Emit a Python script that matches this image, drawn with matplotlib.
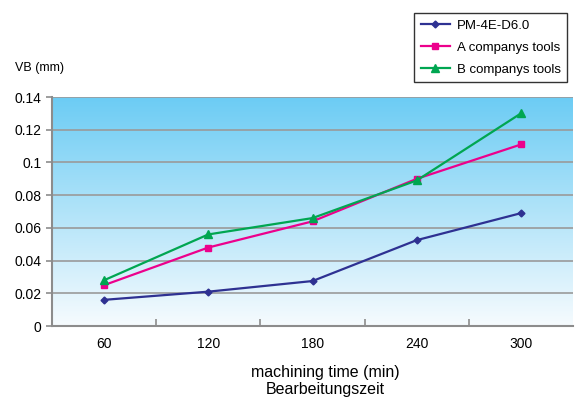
import numpy as np
import matplotlib.pyplot as plt

plt.rcParams['font.family'] = ['Liberation Sans', 'DejaVu Sans']

# --- DATA ---
times = ['60', '120', '180', '240', '300']
pm4e = [0.016, 0.021, 0.0275, 0.0525, 0.069]
a_tools = [0.025, 0.048, 0.064, 0.090, 0.111]
b_tools = [0.028, 0.056, 0.066, 0.089, 0.130]

# --- PLOT ---
fig = plt.figure(figsize=(5.76, 4.11), dpi=100)
ax = fig.add_axes([0.0903, 0.2068, 0.9045, 0.557])

# gradient background: light blue at top, almost white at bottom
grad = np.linspace(0, 1, 256).reshape(-1, 1)
top = np.array([0x6c, 0xcc, 0xf4]) / 255
bot = np.array([0xf6, 0xfb, 0xfe]) / 255
img = bot + (top - bot) * grad
ax.imshow(img[:, None, :].repeat(2, axis=1), origin='lower', aspect='auto',
          extent=[0, 1, 0, 1], transform=ax.transAxes, zorder=0)

x = np.arange(len(times))
ax.plot(x, pm4e, color='#2e3192', marker='D', markersize=3.5, lw=1.6,
        label='PM-4E-D6.0', zorder=3)
ax.plot(x, a_tools, color='#ec008c', marker='s', markersize=4.5, lw=1.6,
        label='A companys tools', zorder=3)
ax.plot(x, b_tools, color='#00a651', marker='^', markersize=5.5, lw=1.6,
        label='B companys tools', zorder=4)

ax.set_xlim(-0.5, len(times) - 0.5)
ax.set_ylim(0, 0.14)
ax.set_yticks(np.arange(0, 0.141, 0.02))
ax.set_yticklabels(['0', '0.02', '0.04', '0.06', '0.08', '0.1', '0.12', '0.14'])
ax.set_xticks(x)
ax.set_xticklabels(times)
ax.set_xticks(np.arange(0.5, len(times) - 0.5, 1), minor=True)
ax.tick_params(axis='x', which='major', length=0, pad=8, labelsize=10)
ax.tick_params(axis='x', which='minor', direction='in', length=5,
               color='#8c8c8c', width=1.2)
ax.tick_params(axis='y', length=4, color='#8c8c8c', width=1.2, labelsize=10)
ax.grid(axis='y', color='#9a9a9a', lw=1.2, zorder=1)
ax.set_axisbelow(True)

for s in ['top', 'right']:
    ax.spines[s].set_visible(False)
for s in ['left', 'bottom']:
    ax.spines[s].set_color('#8c8c8c')
    ax.spines[s].set_linewidth(1.5)

fig.text(0.026, 0.835, 'VB (mm)', fontsize=9, ha='left', va='center')
fig.text(0.565, 0.073, 'machining time (min)\nBearbeitungszeit', fontsize=11.5,
         ha='center', va='center', linespacing=1.1)

leg = fig.legend(loc='upper right', bbox_to_anchor=(0.996, 0.985), fontsize=9.5,
                 frameon=True, fancybox=False, edgecolor='black',
                 handlelength=2.2, borderpad=0.5, labelspacing=0.75,
                 handletextpad=0.5)
leg.get_frame().set_linewidth(1.0)

fig.savefig('out.png', dpi=100)
